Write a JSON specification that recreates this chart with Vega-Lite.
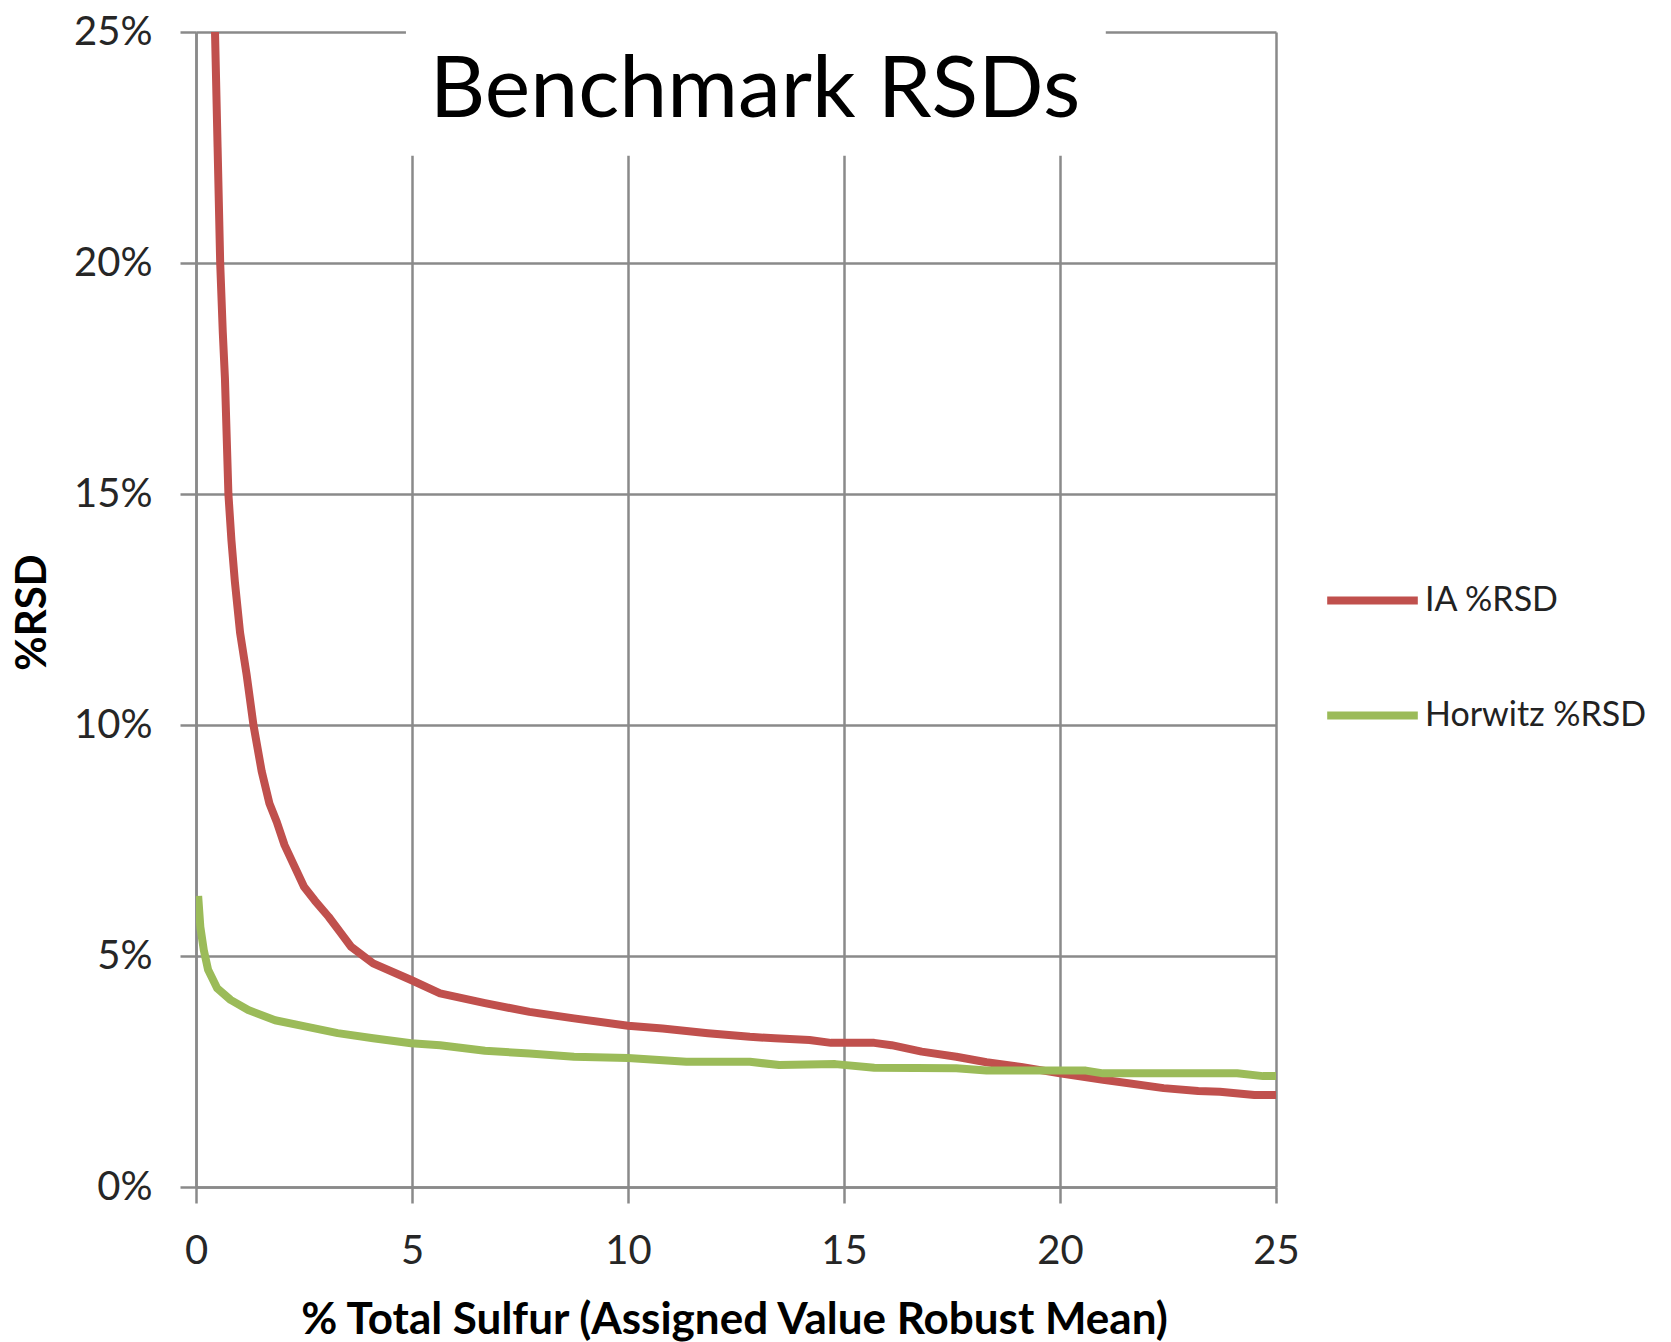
{
  "$schema": "https://vega.github.io/schema/vega-lite/v6.json",
  "autosize": {"type": "none"},
  "width": 1080,
  "height": 1155,
  "padding": {"left": 196, "top": 32, "right": 395, "bottom": 155},
  "background": "white",
  "title": {
    "text": "Benchmark RSDs",
    "font": "Lato",
    "fontSize": 86,
    "fontWeight": "normal",
    "color": "#000000",
    "anchor": "middle",
    "frame": "group",
    "baseline": "alphabetic",
    "offset": -86,
    "dx": 19,
    "dy": 105,
    "zindex": 2
  },
  "config": {
    "view": {"stroke": null},
    "axis": {
      "domainColor": "#8a8a8a",
      "domainWidth": 2.5,
      "gridColor": "#8a8a8a",
      "gridWidth": 2.5,
      "gridOpacity": 1,
      "tickColor": "#8a8a8a",
      "tickWidth": 2.5,
      "tickSize": 16,
      "labelFont": "Lato",
      "labelFontSize": 40,
      "labelColor": "#262626",
      "labelPadding": 28,
      "labelFlush": false,
      "titleFont": "Lato",
      "titleFontWeight": "bold",
      "titleFontSize": 42,
      "titleColor": "#000000"
    },
    "legend": {
      "padding": 0
    }
  },
  "datasets": {
    "curves": [
      {"series": "IA %RSD", "sulfur": 0.44, "rsd": 25.0},
      {"series": "IA %RSD", "sulfur": 0.50, "rsd": 22.5},
      {"series": "IA %RSD", "sulfur": 0.56, "rsd": 20.0},
      {"series": "IA %RSD", "sulfur": 0.62, "rsd": 18.5},
      {"series": "IA %RSD", "sulfur": 0.67, "rsd": 17.5},
      {"series": "IA %RSD", "sulfur": 0.75, "rsd": 15.0},
      {"series": "IA %RSD", "sulfur": 0.82, "rsd": 14.0},
      {"series": "IA %RSD", "sulfur": 0.90, "rsd": 13.1},
      {"series": "IA %RSD", "sulfur": 1.02, "rsd": 12.0},
      {"series": "IA %RSD", "sulfur": 1.17, "rsd": 11.1},
      {"series": "IA %RSD", "sulfur": 1.33, "rsd": 10.0},
      {"series": "IA %RSD", "sulfur": 1.52, "rsd": 9.0},
      {"series": "IA %RSD", "sulfur": 1.70, "rsd": 8.3},
      {"series": "IA %RSD", "sulfur": 1.87, "rsd": 7.9},
      {"series": "IA %RSD", "sulfur": 2.05, "rsd": 7.4},
      {"series": "IA %RSD", "sulfur": 2.25, "rsd": 7.0},
      {"series": "IA %RSD", "sulfur": 2.50, "rsd": 6.5},
      {"series": "IA %RSD", "sulfur": 2.75, "rsd": 6.2},
      {"series": "IA %RSD", "sulfur": 3.07, "rsd": 5.85},
      {"series": "IA %RSD", "sulfur": 3.35, "rsd": 5.5},
      {"series": "IA %RSD", "sulfur": 3.59, "rsd": 5.2},
      {"series": "IA %RSD", "sulfur": 4.10, "rsd": 4.84},
      {"series": "IA %RSD", "sulfur": 4.98, "rsd": 4.48},
      {"series": "IA %RSD", "sulfur": 5.65, "rsd": 4.19},
      {"series": "IA %RSD", "sulfur": 6.69, "rsd": 3.98},
      {"series": "IA %RSD", "sulfur": 7.72, "rsd": 3.79},
      {"series": "IA %RSD", "sulfur": 8.75, "rsd": 3.65},
      {"series": "IA %RSD", "sulfur": 10.0, "rsd": 3.49},
      {"series": "IA %RSD", "sulfur": 10.8, "rsd": 3.43},
      {"series": "IA %RSD", "sulfur": 11.85, "rsd": 3.33},
      {"series": "IA %RSD", "sulfur": 12.82, "rsd": 3.25},
      {"series": "IA %RSD", "sulfur": 13.4, "rsd": 3.22},
      {"series": "IA %RSD", "sulfur": 14.2, "rsd": 3.18},
      {"series": "IA %RSD", "sulfur": 14.7, "rsd": 3.12},
      {"series": "IA %RSD", "sulfur": 15.7, "rsd": 3.12},
      {"series": "IA %RSD", "sulfur": 16.1, "rsd": 3.07},
      {"series": "IA %RSD", "sulfur": 16.8, "rsd": 2.93},
      {"series": "IA %RSD", "sulfur": 17.6, "rsd": 2.82},
      {"series": "IA %RSD", "sulfur": 18.3, "rsd": 2.70},
      {"series": "IA %RSD", "sulfur": 19.1, "rsd": 2.60},
      {"series": "IA %RSD", "sulfur": 20.0, "rsd": 2.46},
      {"series": "IA %RSD", "sulfur": 21.0, "rsd": 2.32},
      {"series": "IA %RSD", "sulfur": 22.4, "rsd": 2.14},
      {"series": "IA %RSD", "sulfur": 23.2, "rsd": 2.08},
      {"series": "IA %RSD", "sulfur": 23.7, "rsd": 2.06},
      {"series": "IA %RSD", "sulfur": 24.5, "rsd": 1.99},
      {"series": "IA %RSD", "sulfur": 25.0, "rsd": 1.99},
      {"series": "Horwitz %RSD", "sulfur": 0.05, "rsd": 6.3},
      {"series": "Horwitz %RSD", "sulfur": 0.10, "rsd": 5.63},
      {"series": "Horwitz %RSD", "sulfur": 0.18, "rsd": 5.13},
      {"series": "Horwitz %RSD", "sulfur": 0.28, "rsd": 4.70},
      {"series": "Horwitz %RSD", "sulfur": 0.49, "rsd": 4.30},
      {"series": "Horwitz %RSD", "sulfur": 0.80, "rsd": 4.05},
      {"series": "Horwitz %RSD", "sulfur": 1.21, "rsd": 3.83},
      {"series": "Horwitz %RSD", "sulfur": 1.83, "rsd": 3.61},
      {"series": "Horwitz %RSD", "sulfur": 2.55, "rsd": 3.47},
      {"series": "Horwitz %RSD", "sulfur": 3.28, "rsd": 3.33},
      {"series": "Horwitz %RSD", "sulfur": 4.10, "rsd": 3.22},
      {"series": "Horwitz %RSD", "sulfur": 4.98, "rsd": 3.11},
      {"series": "Horwitz %RSD", "sulfur": 5.65, "rsd": 3.07},
      {"series": "Horwitz %RSD", "sulfur": 6.69, "rsd": 2.95},
      {"series": "Horwitz %RSD", "sulfur": 7.72, "rsd": 2.89},
      {"series": "Horwitz %RSD", "sulfur": 8.75, "rsd": 2.82},
      {"series": "Horwitz %RSD", "sulfur": 10.0, "rsd": 2.79},
      {"series": "Horwitz %RSD", "sulfur": 11.35, "rsd": 2.71},
      {"series": "Horwitz %RSD", "sulfur": 12.82, "rsd": 2.71},
      {"series": "Horwitz %RSD", "sulfur": 13.5, "rsd": 2.64},
      {"series": "Horwitz %RSD", "sulfur": 14.8, "rsd": 2.66},
      {"series": "Horwitz %RSD", "sulfur": 15.7, "rsd": 2.58},
      {"series": "Horwitz %RSD", "sulfur": 17.6, "rsd": 2.57},
      {"series": "Horwitz %RSD", "sulfur": 18.3, "rsd": 2.52},
      {"series": "Horwitz %RSD", "sulfur": 20.6, "rsd": 2.52},
      {"series": "Horwitz %RSD", "sulfur": 21.0, "rsd": 2.46},
      {"series": "Horwitz %RSD", "sulfur": 24.1, "rsd": 2.46},
      {"series": "Horwitz %RSD", "sulfur": 24.7, "rsd": 2.40},
      {"series": "Horwitz %RSD", "sulfur": 25.0, "rsd": 2.40}
    ]
  },
  "layer": [
    {
      "data": {"name": "curves"},
      "mark": {"type": "line", "strokeWidth": 8, "clip": true, "strokeCap": "butt", "strokeJoin": "round"},
      "encoding": {
        "x": {
          "field": "sulfur",
          "type": "quantitative",
          "scale": {"domain": [0, 25], "nice": false},
          "axis": {
            "values": [0, 5, 10, 15, 20, 25],
            "title": "% Total Sulfur (Assigned Value Robust Mean)",
            "titleFontSize": 44,
            "titleX": 538,
            "titleY": 146,
            "titleBaseline": "alphabetic",
            "titleAnchor": null
          }
        },
        "y": {
          "field": "rsd",
          "type": "quantitative",
          "scale": {"domain": [0, 25], "nice": false},
          "axis": {
            "values": [0, 5, 10, 15, 20, 25],
            "labelExpr": "datum.value + '%'",
            "title": "%RSD",
            "titleX": -164,
            "titleY": 580,
            "titleBaseline": "middle",
            "titleAnchor": null
          }
        },
        "color": {
          "field": "series",
          "type": "nominal",
          "sort": ["IA %RSD", "Horwitz %RSD"],
          "scale": {"domain": ["IA %RSD", "Horwitz %RSD"], "range": ["#C0504D", "#9BBB59"]},
          "legend": {
            "title": null,
            "orient": "none",
            "legendX": 1127,
            "legendY": 519,
            "symbolType": "stroke",
            "symbolSize": 8210,
            "symbolStrokeWidth": 8,
            "labelFont": "Lato",
            "labelFontSize": 34,
            "labelColor": "#222222",
            "labelOffset": 3,
            "labelLimit": 400,
            "rowPadding": 48
          }
        },
        "detail": {"field": "series"}
      }
    },
    {
      "data": {"values": [{}]},
      "mark": {"type": "rect", "color": "white", "clip": false},
      "encoding": {
        "x": {"datum": 4.86},
        "x2": {"datum": 21.06},
        "y": {"datum": 22.32},
        "y2": {"datum": 25.15}
      }
    }
  ]
}
